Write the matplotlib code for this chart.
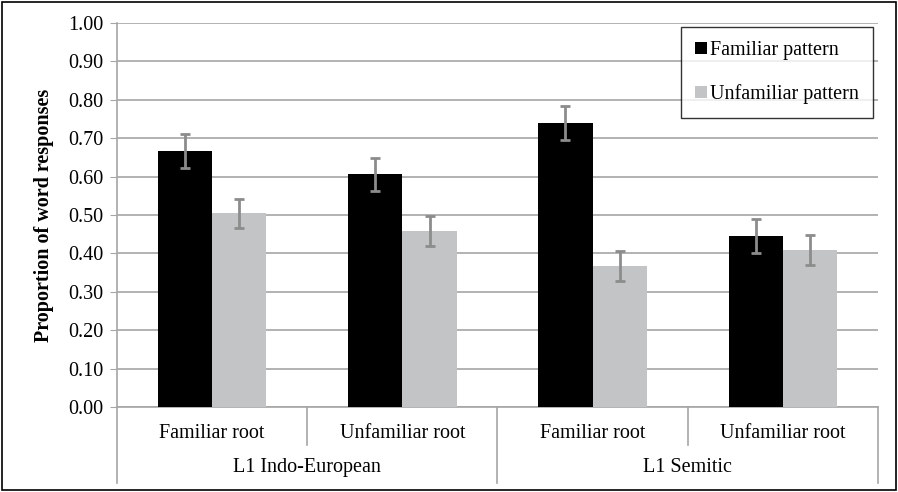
import numpy as np
import matplotlib.pyplot as plt
import matplotlib.transforms as mtransforms

plt.rcParams['font.family'] = ['Liberation Serif', 'DejaVu Serif']

# datos
roots = ['Familiar root', 'Unfamiliar root', 'Familiar root', 'Unfamiliar root']
groups = ['L1 Indo-European', 'L1 Semitic']
familiar = [0.667, 0.606, 0.739, 0.445]
familiar_err = [0.044, 0.043, 0.045, 0.044]
unfamiliar = [0.504, 0.458, 0.368, 0.409]
unfamiliar_err = [0.038, 0.039, 0.039, 0.039]

fig = plt.figure(figsize=(8.98, 4.92), dpi=100)
ax = fig.add_axes([0.1303, 0.1728, 0.8474, 0.7805])

x = np.arange(len(roots))
w = 0.2857
err_style = dict(ecolor='#8c8c8c', elinewidth=2.0, capsize=3.5, capthick=2.0)
ax.bar(x - w / 2, familiar, w, color='black', label='Familiar pattern', zorder=3,
       yerr=familiar_err, error_kw=err_style)
ax.bar(x + w / 2, unfamiliar, w, color='#c3c4c6', label='Unfamiliar pattern', zorder=3,
       yerr=unfamiliar_err, error_kw=err_style)

ax.set_xlim(-0.5, len(roots) - 0.5)
ax.set_ylim(0, 1.0)
ax.set_yticks(np.arange(0, 1.01, 0.1))
ax.set_yticklabels([f'{v:.2f}' for v in np.arange(0, 1.01, 0.1)], fontsize=14.5)
ax.yaxis.grid(True, color='#a6a6a6', linewidth=1.2, zorder=0)
ax.set_axisbelow(True)
ax.tick_params(axis='y', length=5, color='#a6a6a6', pad=5)
ax.set_xticks([])
for s in ['top', 'right']:
    ax.spines[s].set_visible(False)
for s in ['left', 'bottom']:
    ax.spines[s].set_color('#a6a6a6')
    ax.spines[s].set_linewidth(1.2)

ax.set_ylabel('Proportion of word responses', fontsize=14.5, fontweight='bold', labelpad=10)

# etiquetas del eje x en dos niveles
trans = mtransforms.blended_transform_factory(ax.transData, ax.transAxes)
for i, r in enumerate(roots):
    ax.text(i, -0.068, r, transform=trans, ha='center', va='center', fontsize=14.5)
for j, g in enumerate(groups):
    ax.text(2 * j + 0.5, -0.158, g, transform=trans, ha='center', va='center', fontsize=14.5)
for xs in [-0.5, 1.5, 3.5]:
    ax.plot([xs, xs], [0, -0.198], transform=trans, color='#a6a6a6', lw=1.2, clip_on=False)
for xs in [0.5, 2.5]:
    ax.plot([xs, xs], [0, -0.099], transform=trans, color='#a6a6a6', lw=1.2, clip_on=False)

leg = ax.legend(loc='upper right', bbox_to_anchor=(0.994, 0.9896), fontsize=14.5,
                frameon=True, fancybox=False, edgecolor='black', handlelength=0.6,
                handleheight=0.6, handletextpad=0.15, labelspacing=1.2,
                borderpad=0.7, borderaxespad=0)
leg.get_frame().set_linewidth(1.0)

fig.patches.append(plt.Rectangle((0.002, 0.004), 0.996, 0.992, transform=fig.transFigure,
                                 fill=False, edgecolor='black', linewidth=1.2))

fig.savefig('out.png', dpi=100)
